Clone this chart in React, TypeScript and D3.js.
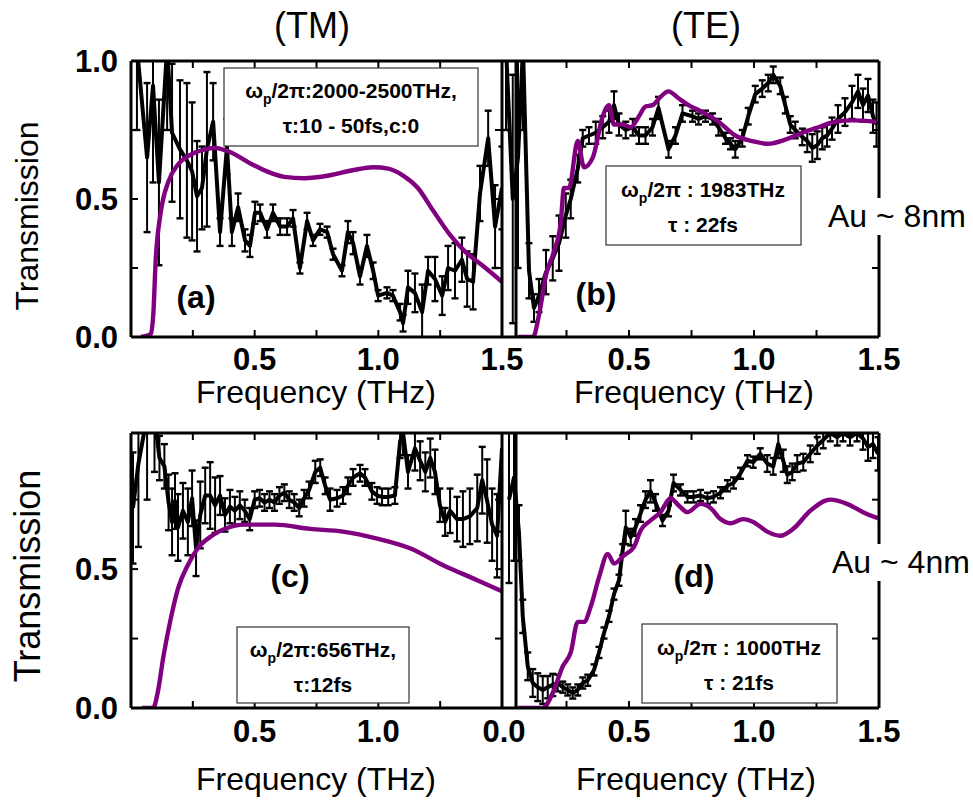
import * as d3 from "d3";

// ---- (a) TM, Au ~ 8nm ----
const freqA = [0.024, 0.065, 0.089, 0.113, 0.146, 0.166, 0.198, 0.226, 0.247, 0.267, 0.287, 0.307, 0.332, 0.36, 0.388, 0.408, 0.433, 0.461, 0.481, 0.501, 0.522, 0.55, 0.574, 0.603, 0.631, 0.655, 0.683, 0.712, 0.736, 0.764, 0.793, 0.817, 0.853, 0.877, 0.898, 0.926, 0.954, 0.979, 0.999, 1.035, 1.059, 1.088, 1.1, 1.12, 1.148, 1.177, 1.201, 1.229, 1.258, 1.282, 1.31, 1.338, 1.359, 1.383, 1.411, 1.444, 1.472, 1.5];
const transA = [1.05, 0.65, 0.91, 0.56, 1.05, 0.74, 0.68, 0.64, 0.6, 0.51, 0.54, 0.68, 0.78, 0.38, 0.69, 0.38, 0.47, 0.35, 0.33, 0.45, 0.45, 0.39, 0.45, 0.4, 0.4, 0.43, 0.25, 0.42, 0.35, 0.39, 0.38, 0.3, 0.24, 0.38, 0.34, 0.22, 0.33, 0.24, 0.15, 0.16, 0.15, 0.09, 0.05, 0.18, 0.16, 0.09, 0.24, 0.21, 0.15, 0.25, 0.24, 0.28, 0.21, 0.2, 0.52, 0.72, 0.4, 0.54];
const errA = [0.3, 0.27, 0.35, 0.3, 0.3, 0.25, 0.25, 0.28, 0.25, 0.2, 0.15, 0.28, 0.14, 0.05, 0.1, 0.05, 0.05, 0.04, 0.04, 0.04, 0.03, 0.03, 0.03, 0.03, 0.03, 0.03, 0.02, 0.03, 0.02, 0.02, 0.02, 0.02, 0.02, 0.04, 0.04, 0.03, 0.04, 0.03, 0.02, 0.02, 0.02, 0.03, 0.03, 0.06, 0.07, 0.1, 0.05, 0.08, 0.07, 0.08, 0.1, 0.08, 0.1, 0.1, 0.1, 0.1, 0.15, 0.15];
const modelFreqA = [0.04, 0.08, 0.09, 0.1, 0.12, 0.15, 0.19, 0.24, 0.3, 0.34, 0.4, 0.48, 0.55, 0.62, 0.7, 0.8, 0.9, 0.98, 1.04, 1.1, 1.16, 1.22, 1.29, 1.35, 1.42, 1.5];
const modelA = [0.0, 0.01, 0.08, 0.28, 0.45, 0.56, 0.625, 0.66, 0.68, 0.685, 0.67, 0.63, 0.6, 0.58, 0.575, 0.585, 0.605, 0.615, 0.61, 0.585, 0.54, 0.46, 0.37, 0.31, 0.26, 0.2];

// ---- (b) TE, Au ~ 8nm ----
const freqB = [0.008, 0.035, 0.056, 0.076, 0.1, 0.12, 0.14, 0.168, 0.195, 0.22, 0.247, 0.267, 0.295, 0.315, 0.34, 0.367, 0.395, 0.42, 0.44, 0.46, 0.487, 0.515, 0.54, 0.566, 0.594, 0.618, 0.658, 0.686, 0.714, 0.754, 0.778, 0.806, 0.834, 0.858, 0.886, 0.906, 0.925, 0.953, 0.977, 1.005, 1.033, 1.057, 1.077, 1.105, 1.125, 1.145, 1.165, 1.193, 1.213, 1.233, 1.253, 1.273, 1.292, 1.312, 1.336, 1.364, 1.392, 1.416, 1.436, 1.456, 1.476, 1.49];
const transB = [1.05, 0.5, 0.65, 1.05, 0.24, 0.105, 0.15, 0.235, 0.285, 0.34, 0.44, 0.5, 0.61, 0.72, 0.73, 0.74, 0.76, 0.78, 0.84, 0.77, 0.75, 0.76, 0.73, 0.73, 0.76, 0.83, 0.68, 0.73, 0.81, 0.8, 0.79, 0.8, 0.79, 0.76, 0.72, 0.7, 0.68, 0.72, 0.8, 0.88, 0.9, 0.92, 0.95, 0.91, 0.84, 0.77, 0.75, 0.725, 0.71, 0.685, 0.695, 0.72, 0.73, 0.755, 0.79, 0.815, 0.85, 0.89, 0.84, 0.875, 0.8, 0.77];
const errB = [0.3, 0.45, 0.4, 0.3, 0.1, 0.05, 0.06, 0.08, 0.08, 0.1, 0.08, 0.07, 0.05, 0.03, 0.03, 0.04, 0.04, 0.04, 0.05, 0.04, 0.03, 0.03, 0.03, 0.03, 0.03, 0.04, 0.03, 0.03, 0.03, 0.02, 0.02, 0.02, 0.02, 0.03, 0.02, 0.02, 0.03, 0.03, 0.03, 0.03, 0.03, 0.03, 0.03, 0.03, 0.03, 0.03, 0.03, 0.03, 0.04, 0.05, 0.05, 0.04, 0.04, 0.04, 0.05, 0.05, 0.06, 0.06, 0.06, 0.06, 0.06, 0.08];
const modelFreqB = [0.056, 0.116, 0.14, 0.168, 0.2, 0.227, 0.24, 0.26, 0.295, 0.32, 0.355, 0.395, 0.42, 0.44, 0.475, 0.507, 0.54, 0.566, 0.594, 0.626, 0.658, 0.698, 0.738, 0.794, 0.858, 0.925, 0.993, 1.057, 1.125, 1.193, 1.257, 1.325, 1.392, 1.49];
const modelB = [0, 0, 0.08, 0.225, 0.31, 0.415, 0.54, 0.54, 0.71, 0.615, 0.65, 0.8, 0.84, 0.77, 0.77, 0.76, 0.8, 0.835, 0.84, 0.87, 0.89, 0.865, 0.84, 0.815, 0.78, 0.73, 0.71, 0.7, 0.715, 0.74, 0.76, 0.78, 0.785, 0.78];

// ---- (c) TM, Au ~ 4nm ----
const freqC = [0.008, 0.03, 0.065, 0.095, 0.115, 0.135, 0.152, 0.166, 0.178, 0.19, 0.21, 0.23, 0.247, 0.263, 0.28, 0.3, 0.32, 0.34, 0.36, 0.38, 0.4, 0.42, 0.44, 0.46, 0.48, 0.5, 0.52, 0.54, 0.56, 0.58, 0.6, 0.62, 0.64, 0.66, 0.68, 0.7, 0.72, 0.745, 0.765, 0.785, 0.805, 0.833, 0.857, 0.877, 0.898, 0.926, 0.946, 0.974, 0.995, 1.015, 1.04, 1.067, 1.088, 1.1, 1.12, 1.148, 1.169, 1.19, 1.21, 1.229, 1.249, 1.27, 1.29, 1.318, 1.342, 1.37, 1.4, 1.42, 1.44, 1.46, 1.48, 1.5];
const transC = [0.72, 0.88, 1.05, 1.05, 0.9, 0.87, 0.74, 0.67, 0.745, 0.65, 0.71, 0.67, 0.755, 0.575, 0.695, 0.765, 0.765, 0.73, 0.765, 0.695, 0.725, 0.71, 0.73, 0.71, 0.68, 0.75, 0.755, 0.74, 0.75, 0.74, 0.765, 0.775, 0.75, 0.74, 0.72, 0.755, 0.785, 0.85, 0.865, 0.8, 0.75, 0.755, 0.765, 0.8, 0.83, 0.845, 0.83, 0.78, 0.765, 0.76, 0.76, 0.765, 0.96, 0.99, 0.85, 0.935, 0.89, 0.85, 0.9, 0.85, 0.73, 0.67, 0.71, 0.68, 0.68, 0.69, 0.72, 0.82, 0.745, 0.66, 0.62, 0.935];
const errC = [0.2, 0.3, 0.3, 0.2, 0.08, 0.08, 0.1, 0.12, 0.1, 0.12, 0.1, 0.12, 0.1, 0.1, 0.12, 0.1, 0.12, 0.1, 0.07, 0.06, 0.06, 0.05, 0.05, 0.04, 0.04, 0.03, 0.03, 0.03, 0.03, 0.03, 0.03, 0.03, 0.03, 0.03, 0.03, 0.03, 0.03, 0.04, 0.03, 0.03, 0.04, 0.03, 0.03, 0.03, 0.03, 0.03, 0.03, 0.03, 0.03, 0.03, 0.03, 0.03, 0.06, 0.08, 0.06, 0.08, 0.07, 0.07, 0.07, 0.08, 0.06, 0.05, 0.08, 0.08, 0.1, 0.1, 0.12, 0.12, 0.15, 0.13, 0.15, 0.3];
const modelFreqC = [0.044, 0.089, 0.109, 0.13, 0.158, 0.19, 0.23, 0.27, 0.327, 0.38, 0.46, 0.58, 0.724, 0.857, 0.995, 1.128, 1.26, 1.4, 1.5];
const modelC = [0, 0, 0.06, 0.18, 0.31, 0.43, 0.515, 0.575, 0.62, 0.645, 0.66, 0.66, 0.645, 0.635, 0.61, 0.575, 0.515, 0.46, 0.42];

// ---- (d) TE, Au ~ 4nm ----
const freqD = [0.02, 0.04, 0.06, 0.075, 0.095, 0.115, 0.135, 0.155, 0.175, 0.195, 0.215, 0.235, 0.255, 0.275, 0.295, 0.315, 0.335, 0.36, 0.38, 0.4, 0.42, 0.44, 0.46, 0.475, 0.487, 0.507, 0.526, 0.546, 0.566, 0.586, 0.606, 0.634, 0.658, 0.678, 0.706, 0.734, 0.758, 0.786, 0.814, 0.838, 0.866, 0.894, 0.918, 0.946, 0.974, 0.997, 1.025, 1.053, 1.077, 1.097, 1.117, 1.133, 1.153, 1.173, 1.197, 1.225, 1.253, 1.277, 1.305, 1.333, 1.356, 1.384, 1.412, 1.436, 1.456, 1.476, 1.496];
const transD = [0.75, 0.83, 0.63, 0.33, 0.15, 0.09, 0.075, 0.065, 0.075, 0.083, 0.09, 0.075, 0.065, 0.054, 0.065, 0.09, 0.1, 0.137, 0.2, 0.27, 0.33, 0.41, 0.46, 0.57, 0.65, 0.615, 0.65, 0.7, 0.75, 0.78, 0.74, 0.675, 0.71, 0.81, 0.785, 0.76, 0.76, 0.765, 0.755, 0.76, 0.775, 0.8, 0.81, 0.845, 0.89, 0.885, 0.915, 0.88, 0.87, 0.95, 0.89, 0.84, 0.85, 0.88, 0.885, 0.915, 0.945, 0.965, 0.99, 0.975, 0.99, 0.975, 0.99, 0.97, 0.94, 0.95, 0.915];
const errD = [0.3, 0.3, 0.1, 0.06, 0.05, 0.05, 0.05, 0.05, 0.04, 0.04, 0.03, 0.02, 0.02, 0.02, 0.02, 0.02, 0.02, 0.02, 0.02, 0.02, 0.02, 0.02, 0.02, 0.02, 0.06, 0.03, 0.03, 0.03, 0.03, 0.04, 0.03, 0.02, 0.02, 0.03, 0.02, 0.02, 0.02, 0.02, 0.02, 0.02, 0.02, 0.02, 0.02, 0.02, 0.02, 0.02, 0.02, 0.03, 0.03, 0.05, 0.04, 0.03, 0.03, 0.03, 0.03, 0.03, 0.03, 0.03, 0.03, 0.03, 0.03, 0.03, 0.03, 0.04, 0.05, 0.05, 0.06];
const modelFreqD = [0.056, 0.155, 0.195, 0.235, 0.267, 0.295, 0.32, 0.347, 0.38, 0.415, 0.44, 0.48, 0.52, 0.547, 0.586, 0.626, 0.666, 0.698, 0.734, 0.786, 0.826, 0.866, 0.905, 0.957, 0.997, 1.053, 1.105, 1.157, 1.225, 1.305, 1.372, 1.436, 1.496];
const modelD = [0, 0, 0.054, 0.15, 0.2, 0.31, 0.31, 0.365, 0.47, 0.555, 0.52, 0.55, 0.58, 0.64, 0.675, 0.705, 0.755, 0.73, 0.705, 0.735, 0.72, 0.68, 0.665, 0.68, 0.67, 0.635, 0.62, 0.645, 0.71, 0.75, 0.735, 0.705, 0.683];

// ticks and labels
const xMinorTicks = [0.25, 0.5, 0.75, 1.0, 1.25];
const yMinorTicks = [0.25, 0.5, 0.75];
const xLabelsA = [0.5, 1.0, 1.5];
const xLabelsB = [0.5, 1.0, 1.5];
const xLabelsC = [0.5, 1.0];
const xLabelsD = [0.0, 0.5, 1.0, 1.5];
const yLabelsTop = [0.0, 0.5, 1.0];
const yLabelsBottom = [0.0, 0.5];

const FONT = "'Liberation Sans', Arial, Helvetica, sans-serif";
const PURPLE = "#800080";
const fmt = d3.format(".1f");

const xLeft = d3.scaleLinear().domain([0, 1.5]).range([131, 502]);
const xRight = d3.scaleLinear().domain([0, 1.5]).range([504, 879]);
const yTop = d3.scaleLinear().domain([0, 1]).range([337, 61]);
const yBottom = d3.scaleLinear().domain([0, 0.99]).range([708, 433]);

type PanelProps = {
  id: string;
  x: d3.ScaleLinear<number, number>;
  y: d3.ScaleLinear<number, number>;
  frameLeft: number;
  lineLeft: number;
  clipLeft: number;
  freq: number[];
  trans: number[];
  err: number[];
  mFreq: number[];
  model: number[];
  xLabels: number[];
  yLabels: number[];
  labelY: number;
  leftTicks: boolean;
};

function Panel(p: PanelProps) {
  const [y0, y1] = p.y.range();
  const top = y1;
  const bottom = y0;
  const right = p.x.range()[1];
  const dataLine = d3
    .line<number>()
    .x((_, i) => p.x(p.freq[i]))
    .y((d) => p.y(d));
  const modelLine = d3
    .line<number>()
    .x((_, i) => p.x(p.mFreq[i]))
    .y((d) => p.y(d))
    .curve(d3.curveMonotoneX);
  const tk = 7;
  return (
    <g>
      <clipPath id={p.id}>
        <rect x={p.clipLeft} y={top} width={right - p.clipLeft} height={bottom - top} />
      </clipPath>
      <g clipPath={`url(#${p.id})`}>
        {p.trans.map((v, i) => {
          const cx = p.x(p.freq[i]);
          const hi = p.y(v + p.err[i]);
          const lo = p.y(v - p.err[i]);
          return (
            <g key={i} stroke="#000" strokeWidth={2}>
              <line x1={cx} x2={cx} y1={hi} y2={lo} />
              <line x1={cx - 3.5} x2={cx + 3.5} y1={hi} y2={hi} strokeWidth={2.4} />
              <line x1={cx - 3.5} x2={cx + 3.5} y1={lo} y2={lo} strokeWidth={2.4} />
            </g>
          );
        })}
        <path d={dataLine(p.trans) ?? ""} fill="none" stroke="#000" strokeWidth={4} strokeLinejoin="round" />
        <path d={modelLine(p.model) ?? ""} fill="none" stroke={PURPLE} strokeWidth={4.4} strokeLinejoin="round" />
      </g>
      {/* frame */}
      <g stroke="#000" strokeWidth={3}>
        <line x1={p.lineLeft} x2={right} y1={top} y2={top} />
        <line x1={p.lineLeft} x2={right} y1={bottom} y2={bottom} />
        <line x1={p.frameLeft} x2={p.frameLeft} y1={top} y2={bottom} />
        <line x1={right} x2={right} y1={top} y2={bottom} />
      </g>
      <g stroke="#000" strokeWidth={2}>
        {xMinorTicks.map((t) => (
          <g key={"x" + t}>
            <line x1={p.x(t)} x2={p.x(t)} y1={bottom} y2={bottom - tk} />
            <line x1={p.x(t)} x2={p.x(t)} y1={top} y2={top + tk} />
          </g>
        ))}
        {yMinorTicks
          .filter((t) => p.y(t) > top + 2)
          .map((t) => (
            <g key={"y" + t}>
              {p.leftTicks && <line x1={p.frameLeft} x2={p.frameLeft + tk} y1={p.y(t)} y2={p.y(t)} />}
              <line x1={right} x2={right - tk} y1={p.y(t)} y2={p.y(t)} />
            </g>
          ))}
      </g>
      <g fontFamily={FONT} fontWeight="bold" fontSize={31} fill="#000" textAnchor="middle">
        {p.xLabels.map((t) => (
          <text key={"xl" + t} x={p.x(t)} y={p.labelY}>
            {fmt(t)}
          </text>
        ))}
      </g>
      <g fontFamily={FONT} fontWeight="bold" fontSize={31} fill="#000" textAnchor="end">
        {p.yLabels.map((t) => (
          <text key={"yl" + t} x={118} y={p.y(t) + 11}>
            {fmt(t)}
          </text>
        ))}
      </g>
    </g>
  );
}

function ParamBox(props: { x: number; y: number; w: number; h: number; cx: number; b1: number; b2: number; rest: string; tau: string }) {
  return (
    <g>
      <rect x={props.x} y={props.y} width={props.w} height={props.h} fill="#fff" stroke="#333" strokeWidth={1.2} />
      <text x={props.cx} y={props.b1} textAnchor="middle" fontFamily={FONT} fontWeight="bold" fontSize={21}>
        ω<tspan dy={6} fontSize={14}>p</tspan>
        <tspan dy={-6}>{props.rest}</tspan>
      </text>
      <text x={props.cx} y={props.b2} textAnchor="middle" fontFamily={FONT} fontWeight="bold" fontSize={21}>
        {props.tau}
      </text>
    </g>
  );
}

function SideLabel(props: { x: number; y: number; text: string }) {
  return (
    <g>
      <rect x={props.x - 4} y={props.y - 29} width={148} height={37} fill="#fff" />
      <text x={props.x} y={props.y} fontFamily={FONT} fontSize={32}>
        {props.text}
      </text>
    </g>
  );
}

export default function App() {
  return (
    <svg width={973} height={802} style={{ position: "absolute", left: 0, top: 0, background: "#fff" }}>
      <rect width={973} height={802} fill="#fff" />
      <text x={312} y={38} textAnchor="middle" fontFamily={FONT} fontSize={36}>(TM)</text>
      <text x={706} y={38} textAnchor="middle" fontFamily={FONT} fontSize={36}>(TE)</text>

      <Panel id="clipA" x={xLeft} y={yTop} frameLeft={131} lineLeft={131} clipLeft={131} freq={freqA} trans={transA} err={errA}
        mFreq={modelFreqA} model={modelA} xLabels={xLabelsA} yLabels={yLabelsTop} labelY={370} leftTicks={true} />
      <Panel id="clipB" x={xRight} y={yTop} frameLeft={516} lineLeft={502} clipLeft={502} freq={freqB} trans={transB} err={errB}
        mFreq={modelFreqB} model={modelB} xLabels={xLabelsB} yLabels={[]} labelY={370} leftTicks={false} />
      <Panel id="clipC" x={xLeft} y={yBottom} frameLeft={131} lineLeft={131} clipLeft={131} freq={freqC} trans={transC} err={errC}
        mFreq={modelFreqC} model={modelC} xLabels={xLabelsC} yLabels={yLabelsBottom} labelY={742} leftTicks={true} />
      <Panel id="clipD" x={xRight} y={yBottom} frameLeft={516} lineLeft={502} clipLeft={502} freq={freqD} trans={transD} err={errD}
        mFreq={modelFreqD} model={modelD} xLabels={xLabelsD} yLabels={[]} labelY={742} leftTicks={false} />

      <ParamBox x={224} y={68} w={254} h={78} cx={351} b1={98} b2={133} rest="/2π:2000-2500THz," tau="τ:10 - 50fs,c:0" />
      <ParamBox x={606} y={166} w={195} h={79} cx={703} b1={197} b2={232} rest="/2π : 1983THz" tau="τ : 22fs" />
      <ParamBox x={237} y={627} w={172} h={76} cx={323} b1={657} b2={692} rest="/2π:656THz," tau="τ:12fs" />
      <ParamBox x={642} y={624} w={195} h={79} cx={739} b1={655} b2={690} rest="/2π : 1000THz" tau="τ : 21fs" />

      <g fontFamily={FONT} fontWeight="bold" fontSize={32} textAnchor="middle">
        <text x={196} y={308}>(a)</text>
        <text x={596} y={305}>(b)</text>
        <text x={290} y={587}>(c)</text>
        <text x={694} y={587}>(d)</text>
      </g>

      <SideLabel x={828} y={227} text="Au ~ 8nm" />
      <SideLabel x={832} y={573} text="Au ~ 4nm" />

      <g fontFamily={FONT} fontSize={32} textAnchor="middle">
        <text x={316} y={403}>Frequency (THz)</text>
        <text x={694} y={403}>Frequency (THz)</text>
        <text x={316} y={790}>Frequency (THz)</text>
        <text x={696} y={790}>Frequency (THz)</text>
        <text transform="translate(38,216) rotate(-90)">Transmission</text>
        <text transform="translate(40,576) rotate(-90)" fontSize={36}>Transmission</text>
      </g>
    </svg>
  );
}
